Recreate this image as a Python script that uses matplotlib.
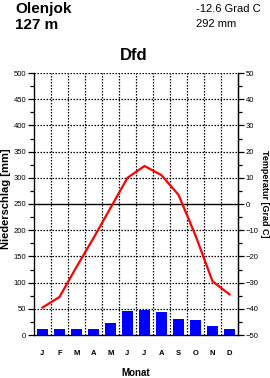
import numpy as np
import matplotlib
matplotlib.use("Agg")
import matplotlib.pyplot as plt
from matplotlib.ticker import MultipleLocator

plt.rcParams['font.family'] = ['Liberation Sans', 'DejaVu Sans']

# climate data, Olenjok
months = ['J', 'F', 'M', 'A', 'M', 'J', 'J', 'A', 'S', 'O', 'N', 'D']
precip = [12, 12, 12, 12, 22, 45, 47, 43, 30, 28, 18, 12]
temp = [-39.5, -35.5, -24, -13, -1.5, 10, 14.5, 11, 3.5, -12, -29.5, -34.5]

station = "Olenjok"
height = "127 m"
mean_temp = "-12.6 Grad C"
total_precip = "292 mm"
climate = "Dfd"

fig = plt.figure(figsize=(2.7, 3.78), dpi=100)
ax = fig.add_axes([34 / 270, 1 - 335 / 378, 204 / 270, 262 / 378])
x = np.arange(len(months))

ax.bar(x, precip, width=0.65, color='#0000ff', zorder=3)
ax.set_xlim(-0.5, 11.5)
ax.set_ylim(0, 500)

# grid: dotted, solid line at 0 degrees
for y in range(50, 501, 50):
    if y == 250:
        ax.axhline(y, color='black', lw=1.0, zorder=2)
    else:
        ax.axhline(y, color='black', lw=0.9, ls=(0, (1.2, 1.2)), zorder=2)
for xb in np.arange(0.5, 11.5, 1):
    ax.axvline(xb, color='black', lw=0.9, ls=(0, (1.2, 1.2)), zorder=2)

ax.spines['top'].set_visible(False)
for s in ['left', 'right', 'bottom']:
    ax.spines[s].set_linewidth(0.9)

ax.yaxis.set_major_locator(MultipleLocator(50))
ax.yaxis.set_minor_locator(MultipleLocator(25))
ax.tick_params(axis='y', which='major', length=4, width=0.9, labelsize=5.5, pad=1.5)
ax.tick_params(axis='y', which='minor', length=3, width=0.9)
ax.set_xticks(x)
ax.set_xticklabels(months, fontsize=5.5, fontweight='bold')
ax.tick_params(axis='x', length=0, pad=11)

ax2 = ax.twinx()
ax2.set_ylim(-50, 50)
ax2.plot(x, temp, color='#ff0000', lw=1.6, zorder=4)
ax2.spines['top'].set_visible(False)
ax2.spines['right'].set_linewidth(0.9)
ax2.yaxis.set_major_locator(MultipleLocator(10))
ax2.yaxis.set_minor_locator(MultipleLocator(5))
ax2.tick_params(axis='y', which='major', length=4, width=0.9, labelsize=5.5, pad=1.5)
ax2.tick_params(axis='y', which='minor', length=3, width=0.9)

# axis titles
fig.text(6 / 270, 1 - 199 / 378, "Niederschlag [mm]", fontsize=8, fontweight='bold',
         rotation=90, ha='center', va='center')
fig.text(264 / 270, 1 - 194 / 378, "Temperatur [Grad C]", fontsize=6.5, fontweight='bold',
         rotation=-90, ha='center', va='center')
fig.text(136 / 270, 1 - 373 / 378, "Monat", fontsize=7, fontweight='bold',
         ha='center', va='center')

fig.text(15 / 270, 1 - 9 / 378, station, fontsize=11, fontweight='bold', va='center')
fig.text(15 / 270, 1 - 25 / 378, height, fontsize=11, fontweight='bold', va='center')
fig.text(196 / 270, 1 - 9 / 378, mean_temp, fontsize=8, va='center')
fig.text(196 / 270, 1 - 24 / 378, total_precip, fontsize=8, va='center')
fig.text(134 / 270, 1 - 56 / 378, climate, fontsize=12, fontweight='bold', ha='center', va='center')

fig.savefig("out.png", dpi=100)
